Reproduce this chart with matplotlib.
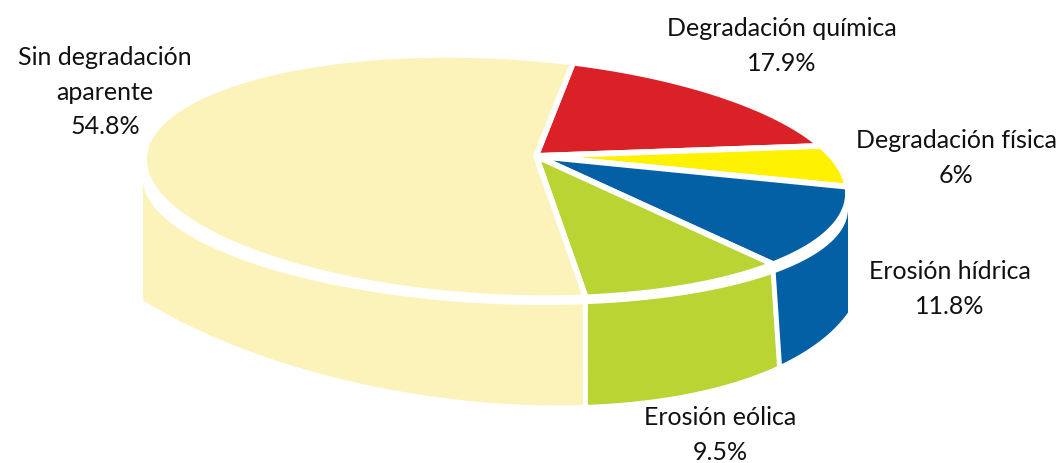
import numpy as np
import matplotlib
matplotlib.use('Agg')
import matplotlib.pyplot as plt
from matplotlib.patches import Polygon

# Slices, clockwise from the cream/red border
names = ['Degradación química', 'Degradación física', 'Erosión hídrica', 'Erosión eólica', 'Sin degradación\naparente']
values = [17.9, 6, 11.8, 9.5, 54.8]
colors = ['#DA2128', '#FFF200', '#0460A4', '#B9D433', '#FBF3BA']
label_x = [782, 956, 950, 720, 105]
label_y = [46, 158, 289, 435, 92]

start = -80.8
warp_k = 0.78
apex = np.array([536.0, 157.0])
top_ell = (496.0, 177.5, 352.0, 17.0, 120.5)
wall_top = (495.5, 195.0, 352.5, 15.0, 110.0)
wall_bot = (450.0, 212.3, 415.0, 50.2, 187.5)


def ell(e, t):
    cx, cy, a, c, b = e
    return np.column_stack([cx + a*np.cos(t), cy + c*np.cos(t) + b*np.sin(t)])


def bottom(x):
    # lower rim of the wall, walls lean out a bit on the right and stop at x=848
    cx, cy, a, c, b = wall_bot
    xb = np.clip(x + 7*np.clip((x - 582)/196, 0, 1), 143, 848)
    u = (xb - cx)/a
    return np.column_stack([xb, cy + c*u + b*np.sqrt(1 - u**2)])


# perspective: straight lines stay straight, slices in front look narrower
cx, cy, a, c, b = top_ell
u0 = (apex[0] - cx)/a
v0 = (apex[1] - cy - c*u0)/b
p = np.array([u0, v0])*warp_k
s = np.hypot(p[0], p[1])
e = p/s
g = np.sqrt(1 - s**2)


def warp(deg):
    th = np.radians(deg)
    x = np.column_stack([np.cos(th), np.sin(th)])
    d = x @ e
    par = d[:, None]*e
    out = (p + par + g*(x - par))/(1 + x @ p)[:, None]
    return np.arctan2(out[:, 1], out[:, 0])


vals = np.array(values, dtype=float)
edges = start + 360*np.concatenate([[0], np.cumsum(vals)])/vals.sum()

fig = plt.figure(figsize=(10.59, 4.64), dpi=100)
ax = fig.add_axes([0, 0, 1, 1])
ax.set_xlim(0, 1059)
ax.set_ylim(464, 0)
ax.axis('off')

# side walls, only the front half of the rim (t from 0 to 180)
for i in range(len(vals)):
    t = np.mod(warp(np.linspace(edges[i], edges[i+1], 1500)), 2*np.pi)
    t = np.sort(t[t <= np.pi])
    if len(t) < 2:
        continue
    rim = ell(wall_top, t)
    poly = np.vstack([rim, bottom(rim[:, 0])[::-1]])
    ax.add_patch(Polygon(poly, closed=True, fc=colors[i], ec='none', zorder=1))

# white gaps between the walls
for d in edges[1:]:
    t = warp(np.array([d]))
    if np.sin(t[0]) > 0.05:
        rim = ell(wall_top, t)
        q = np.vstack([rim, bottom(rim[:, 0])])
        q[0, 1] -= 5
        q[1, 1] += 5
        ax.plot(q[:, 0], q[:, 1], color='white', lw=3.6, zorder=2, solid_capstyle='butt')

# top of the pie, cream first so the white borders of the others sit on it
for i in [4, 0, 1, 2, 3]:
    t = warp(np.linspace(edges[i], edges[i+1], 300))
    poly = np.vstack([apex, ell(top_ell, t)])
    ax.add_patch(Polygon(poly, closed=True, fc=colors[i], ec='white', lw=4.2,
                         joinstyle='miter', zorder=3 + i))

for n, v, x, y in zip(names, values, label_x, label_y):
    ax.text(x, y, f'{n}\n{v:g}%', ha='center', va='center', fontsize=18,
            family='Lato', color='#111111', linespacing=1.62, zorder=10)

fig.savefig('out.png', dpi=100)
